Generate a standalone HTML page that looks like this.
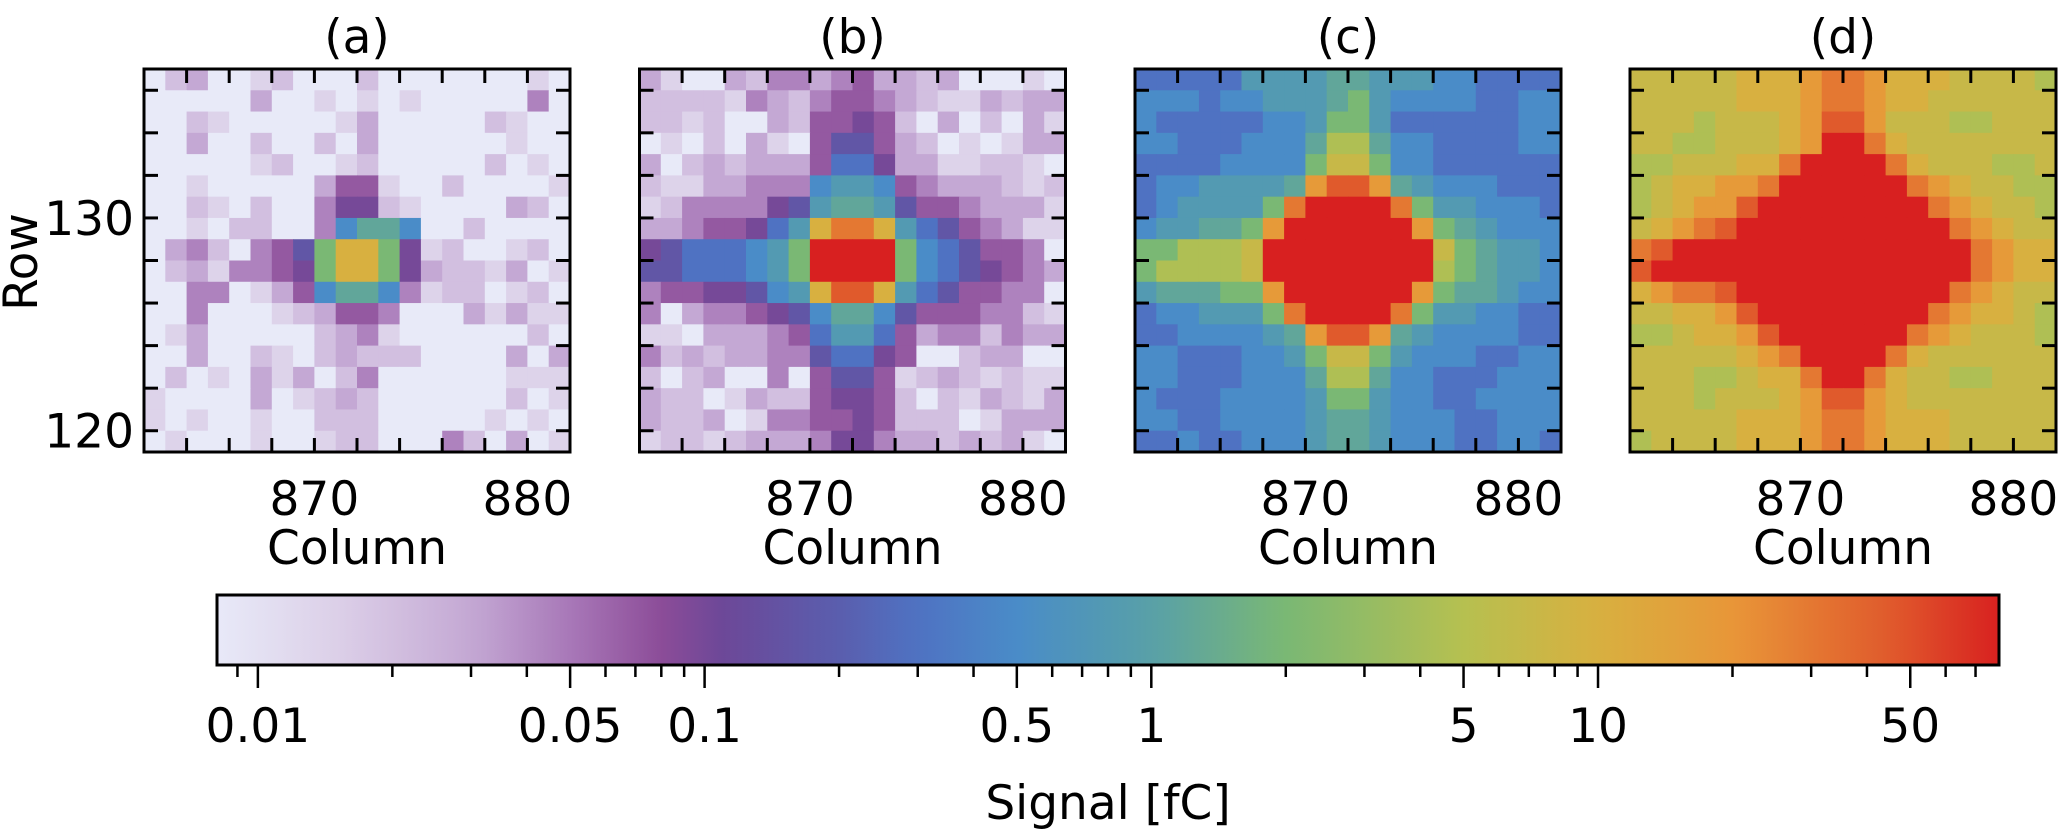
<!DOCTYPE html>
<html><head><meta charset="utf-8"><style>
html,body{margin:0;padding:0;background:#fff;}
svg{display:block;font-family:"DejaVu Sans","Liberation Sans",sans-serif;}
</style></head><body>
<svg id="fig" width="2067" height="829" viewBox="0 0 2067 829" xmlns="http://www.w3.org/2000/svg">
<defs><linearGradient id="cbgrad" x1="0" x2="1" y1="0" y2="0"></linearGradient></defs>
<g id="panels"></g>
<g id="cbar"></g>
</svg>
<script>
// ---- data ----
const panelTitles = ["(a)","(b)","(c)","(d)"];
const colStart = 862, colEnd = 882;   // column edges
const rowStart = 119, rowEnd = 137;   // row edges
const xTickLabels = [870, 880];
const yTickLabels = [120, 130];
// level codes -> signal values [fC]
const levelCodes = "0123456789abcdefghij";
const levelValues = [0.008,0.014,0.02,0.03,0.045,0.07,0.1,0.16,0.3,0.5,0.8,1.2,2,4.5,7,10,18,30,45,80];
// rows listed top (row 136) to bottom (row 119), 20 columns each
const panelA = [
"02300120002000000010","00000300101010000040","00210000013000002100","00300200203000000100",
"00000120012000002010","00100000355100200001","00210200466210000320","0010220049bb90020000",
"03420457cffc61200120","02314456cffc63221301","004401359bb941220120","00400012355400031311",
"01300000234100000020","00300210232220000303","02010313024000000111","10000301232000000201",
"10100100222000001010","01000100122000420301"];
const panelB = [
"31003244345332300010","22221432455432113233","22120032556520302031","01020310577532010133",
"30232333588633112210","211334449aa954333212","12444467abba75543331","3345568afhhfa8754311",
"678889acjjjjc9875540","778889acjjjjc9876543","4556679afiifa8755440","403445679bb975554421",
"110333458aa853442433","42323344788650023300","20230040577512321211","32201322566520213213",
"32230144556522201333","12212333466433232310"];
const panelC = [
"88888aaaabbaaa998888","999899aaabca99998899","98888899acca88888899","99888999bddb99888899",
"88889999ceec99888888","899aaaabgiigba999888","89aaaachjjjjhcaa9998","9aabbcgjjjjjjgcba999",
"ccdddejjjjjjjjecbaa9","cddddejjjjjjjjdcbaa9","abbbccgjjjjjjgcbba99","899aaachjjjjhcaa9988",
"889999abgiigba999988","9988899aceeca9998899","99888999bddb99888999","98889999acca99889999",
"99889999abba99988999","88988999abba99988998"];
const panelD = [
"eeeeefffghhgfffeeeed","eeeeefffghhgffeeeeee","eeedeeefgiigeeeddeee","eeddeeefgjjhfeeeeeee",
"ddeeeffhjjjjhfeeedde","deffgghjjjjjjhgfeedd","defggijjjjjjjjhgfeed","efghijjjjjjjjjjhgfee",
"hijjjjjjjjjjjjjjhgff","ijjjjjjjjjjjjjjjhgff","fghhijjjjjjjjjjhgfee","eeffgijjjjjjjjhgffed",
"ddeffgijjjjjjhgfeeed","eeeeefghjjjjhfeeeeee","eeeddeffhjjhfeeddeee","eeedeeefgiigfeeeeeee",
"eeeeefffghhgfffeeeee","deeeefffghhgfffeeeee"];
const cbMajorTicks = [0.01,0.05,0.1,0.5,1,5,10,50];
const cbMajorLabels = ["0.01","0.05","0.1","0.5","1","5","10","50"];
const cbMinorTicks = [0.009,0.02,0.03,0.04,0.06,0.07,0.08,0.09,0.2,0.3,0.4,0.6,0.7,0.8,0.9,2,3,4,6,7,8,9,20,30,40,60,70];
const vmin = 0.0081, vmax = 79;
// colormap stops (value, color)
const cmapVals = [0.008,0.015,0.03,0.05,0.08,0.11,0.2,0.3,0.5,1,2,5,10,20,45,80];
const cmapCols = ["#e8eaf8","#dcd0e8","#c4a8d4","#a878b8","#8c4c98","#6c4898","#5a5eae","#4f72c2","#4a8cc8","#58a0a8","#7ab874","#b6c050","#d8b040","#e89638","#e05a2c","#d82020"];

// ---- helpers ----
const NS = "http://www.w3.org/2000/svg";
const FS = 47;
function mk(tag, attrs, parent){const e=document.createElementNS(NS,tag);for(const k in attrs)e.setAttribute(k,attrs[k]);parent.appendChild(e);return e;}
function hex(c){return [parseInt(c.slice(1,3),16),parseInt(c.slice(3,5),16),parseInt(c.slice(5,7),16)];}
function cmap(v){
  const lv=Math.log10(Math.max(v,cmapVals[0]));
  for(let i=0;i<cmapVals.length-1;i++){
    const a=Math.log10(cmapVals[i]),b=Math.log10(cmapVals[i+1]);
    if(lv<=b){const t=Math.max(0,(lv-a)/(b-a));const c1=hex(cmapCols[i]),c2=hex(cmapCols[i+1]);
      return "rgb("+c1.map((x,j)=>Math.round(x+(c2[j]-x)*t)).join(",")+")";}
  }
  return cmapCols[cmapCols.length-1];
}
const panelX0 = [144, 639.5, 1135, 1630];
const PW = 426, PT = 69, PB = 452;
function xScale(p, col){return panelX0[p] + (col-colStart)/(colEnd-colStart)*PW;}
function yScale(row){return PB - (row-rowStart)/(rowEnd-rowStart)*(PB-PT);}

const panelsG = document.getElementById("panels");
const panelData = [panelA, panelB, panelC, panelD];
const letters = ["a","b","c","d"];
panelData.forEach((grid, p) => {
  const g = mk("g", {}, panelsG);
  
  
  grid.forEach((rowStr, ri) => {
    const row = rowEnd - 1 - ri;
    for (let ci = 0; ci < rowStr.length; ci++) {
      const col = colStart + ci;
      const val = levelValues[levelCodes.indexOf(rowStr[ci])];
      const x1 = xScale(p, col), x2 = xScale(p, col+1), y1 = yScale(row+1), y2 = yScale(row);
      const r = mk("rect", {x:x1, y:y1, width:x2-x1+0.5, height:y2-y1+0.5, fill:cmap(val)}, g);
      
      
    }
  });
  const tg = mk("g", {stroke:"#000","stroke-width":3}, g);
  
  
  for (let c = colStart + 2; c < colEnd; c += 2) {
    const x = xScale(p, c);
    mk("line", {x1:x, x2:x, y1:PT, y2:PT+14}, tg);
    mk("line", {x1:x, x2:x, y1:PB, y2:PB-14}, tg);
  }
  for (let r = rowStart + 1; r < rowEnd; r += 2) {
    const y = yScale(r);
    mk("line", {x1:panelX0[p], x2:panelX0[p]+14, y1:y, y2:y}, tg);
    mk("line", {x1:panelX0[p]+PW, x2:panelX0[p]+PW-14, y1:y, y2:y}, tg);
  }
  const fr = mk("rect", {x:panelX0[p], y:PT, width:PW, height:PB-PT, fill:"none", stroke:"#000", "stroke-width":3}, g);
  
  
  const t = mk("text", {x:panelX0[p]+PW/2, y:53, "text-anchor":"middle", "font-size":FS}, g);
  t.textContent = panelTitles[p];
  
  
  xTickLabels.forEach(v => {
    const tl = mk("text", {x:xScale(p, v), y:515, "text-anchor":"middle", "font-size":FS}, g);
    tl.textContent = v;
    
    
  });
  const xl = mk("text", {x:panelX0[p]+PW/2, y:564, "text-anchor":"middle", "font-size":FS}, g);
  xl.textContent = "Column";
  
  
  if (p === 0) {
    yTickLabels.forEach(v => {
      const yl = mk("text", {x:134, y:yScale(v)+17, "text-anchor":"end", "font-size":FS}, g);
      yl.textContent = v;
      
      
    });
    const yt = mk("text", {x:0, y:0, "text-anchor":"middle", "font-size":FS, transform:"translate(37,262) rotate(-90)"}, g);
    yt.textContent = "Row";
    
    
  }
});

// ---- colorbar ----
const CBL = 217, CBR = 1999, CBT = 595, CBB = 665;
function cbX(v){return CBL + (Math.log10(v)-Math.log10(vmin))/(Math.log10(vmax)-Math.log10(vmin))*(CBR-CBL);}
const grad = document.getElementById("cbgrad");
for (let i = 0; i <= 60; i++) {
  const lv = Math.log10(vmin) + i/60*(Math.log10(vmax)-Math.log10(vmin));
  mk("stop", {offset:(i/60*100)+"%", "stop-color":cmap(Math.pow(10, lv))}, grad);
}
const cb = document.getElementById("cbar");


const cbr = mk("rect", {x:CBL, y:CBT, width:CBR-CBL, height:CBB-CBT, fill:"url(#cbgrad)", stroke:"#000", "stroke-width":3}, cb);


const ctg = mk("g", {stroke:"#000","stroke-width":2.5}, cb);


cbMinorTicks.forEach(v => { const x = cbX(v); mk("line", {x1:x, x2:x, y1:CBB, y2:CBB+12}, ctg); });
cbMajorTicks.forEach((v, i) => {
  const x = cbX(v);
  mk("line", {x1:x, x2:x, y1:CBB, y2:CBB+23}, ctg);
  const tl = mk("text", {x:x, y:742, "text-anchor":"middle", "font-size":FS}, cb);
  tl.textContent = cbMajorLabels[i];
  
  
});
const cbl = mk("text", {x:(CBL+CBR)/2, y:819, "text-anchor":"middle", "font-size":FS}, cb);
cbl.textContent = "Signal [fC]";


</script>
</body></html>
